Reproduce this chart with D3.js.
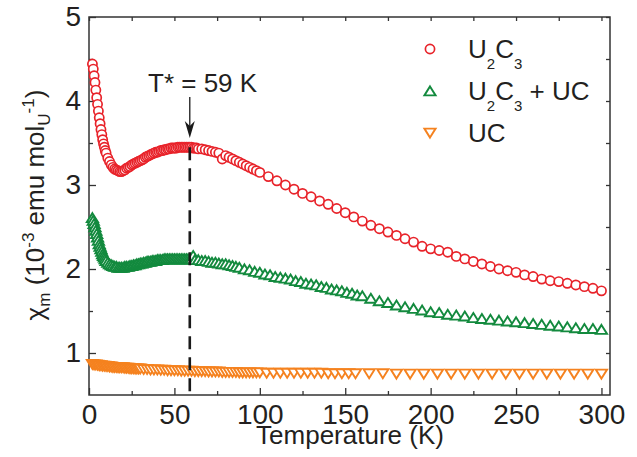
<html>
  <head>
    <style>
      body { margin: 0; background: #fff; }
      text { font-family: "Liberation Sans", Arial, sans-serif; fill: #231f20; }
    </style>
  </head>
  <body>
    <script src="https://d3js.org/d3.v7.min.js"></script>
    <div id="main"></div>

    <script>
      // ---- data ----
      const redT = [2, 2.5, 3, 3.5, 4, 4.5, 5, 5.5, 6, 6.5, 7, 7.5, 8, 8.5, 9, 9.5, 10, 11, 12, 13, 14, 15, 16, 17, 18, 19,
        20, 21, 22, 23, 24, 25, 26, 27, 28, 29, 30, 31, 32, 33, 34, 35, 36, 37, 38, 39, 40, 41, 42, 43, 44, 45, 46, 47, 48, 49,
        50, 51, 52, 53, 54, 55, 56, 57, 58, 59, 60, 61, 62, 63, 64, 66, 68, 70, 72, 74, 76, 78, 80, 82, 84, 86, 88, 90, 92, 94,
        96, 98, 100, 105, 110, 115, 120, 125, 130, 135, 140, 145, 150, 155, 160, 165, 170, 175, 180, 185, 190, 195, 200, 205,
        210, 215, 220, 225, 230, 235, 240, 245, 250, 255, 260, 265, 270, 275, 280, 285, 290, 295, 300];
      const redChi = [4.44, 4.38, 4.30, 4.22, 4.13, 4.04, 3.96, 3.88, 3.80, 3.73, 3.66, 3.60, 3.54, 3.49, 3.45, 3.41, 3.38, 3.32,
        3.28, 3.24, 3.21, 3.19, 3.18, 3.17, 3.16, 3.16, 3.17, 3.18, 3.20, 3.21, 3.22, 3.24, 3.25, 3.26, 3.27, 3.28, 3.29, 3.30,
        3.31, 3.33, 3.34, 3.35, 3.36, 3.37, 3.38, 3.39, 3.39, 3.40, 3.41, 3.41, 3.42, 3.42, 3.43, 3.43, 3.44, 3.44, 3.44, 3.44,
        3.45, 3.45, 3.45, 3.45, 3.45, 3.45, 3.45, 3.45, 3.45, 3.44, 3.44, 3.44, 3.43, 3.43, 3.42, 3.41, 3.40, 3.39, 3.38, 3.31,
        3.35, 3.33, 3.31, 3.29, 3.27, 3.25, 3.23, 3.21, 3.19, 3.17, 3.15, 3.10, 3.05, 3.00, 2.95, 2.90, 2.86, 2.81, 2.77, 2.72,
        2.67, 2.62, 2.57, 2.52, 2.48, 2.44, 2.40, 2.36, 2.32, 2.27, 2.24, 2.22, 2.20, 2.15, 2.12, 2.09, 2.06, 2.03, 2.00, 1.98,
        1.96, 1.93, 1.91, 1.88, 1.86, 1.85, 1.83, 1.81, 1.79, 1.77, 1.74];

      const greenT = [2, 2.5, 3, 3.5, 4, 4.5, 5, 5.5, 6, 6.5, 7, 7.5, 8, 8.5, 9, 9.5, 10, 11, 12, 13, 14, 15, 16, 17, 18, 19,
        20, 21, 22, 23, 24, 25, 26, 27, 28, 29, 30, 31, 32, 33, 34, 35, 36, 37, 38, 39, 40, 41, 42, 43, 44, 45, 46, 47, 48, 49,
        50, 51, 52, 53, 54, 55, 56, 57, 58, 59, 60, 61, 62, 64, 66, 68, 70, 72, 74, 76, 78, 80, 82, 84, 86, 88, 91, 94, 97, 100,
        103, 106, 109, 112, 115, 118, 121, 124, 127, 130, 133, 136, 139, 142, 145, 148, 151, 154, 157, 160, 165, 170, 175, 180,
        185, 190, 195, 200, 205, 210, 215, 220, 225, 230, 235, 240, 245, 250, 255, 260, 265, 270, 275, 280, 285, 290, 295, 300];
      const greenChi = [2.61, 2.58, 2.54, 2.50, 2.46, 2.42, 2.38, 2.34, 2.30, 2.27, 2.24, 2.21, 2.18, 2.16, 2.14, 2.12, 2.10,
        2.08, 2.06, 2.05, 2.04, 2.03, 2.03, 2.02, 2.02, 2.02, 2.02, 2.03, 2.03, 2.03, 2.04, 2.04, 2.05, 2.05, 2.06, 2.06, 2.07,
        2.07, 2.08, 2.08, 2.09, 2.09, 2.09, 2.10, 2.10, 2.10, 2.11, 2.11, 2.11, 2.11, 2.12, 2.12, 2.12, 2.12, 2.12, 2.12, 2.12,
        2.12, 2.12, 2.12, 2.12, 2.12, 2.12, 2.12, 2.12, 2.12, 2.12, 2.16, 2.11, 2.11, 2.10, 2.10, 2.09, 2.08, 2.08, 2.07, 2.06,
        2.06, 2.05, 2.04, 2.03, 2.02, 2.00, 1.99, 1.97, 1.96, 1.94, 1.93, 1.91, 1.90, 1.89, 1.88, 1.86, 1.85, 1.83, 1.82, 1.81,
        1.79, 1.78, 1.76, 1.75, 1.74, 1.72, 1.71, 1.69, 1.68, 1.65, 1.62, 1.60, 1.57, 1.55, 1.53, 1.51, 1.49, 1.48, 1.46, 1.45,
        1.44, 1.42, 1.41, 1.40, 1.39, 1.38, 1.37, 1.36, 1.35, 1.34, 1.33, 1.32, 1.31, 1.30, 1.29, 1.29, 1.28];

      const orangeT = [2, 3, 4, 5, 6, 7, 8, 9, 10, 11, 12, 13, 14, 15, 16, 17, 18, 19, 20, 21, 22, 23, 24, 25, 26, 27, 28, 29,
        30, 32, 34, 36, 38, 40, 42, 44, 46, 48, 50, 52, 54, 56, 58, 60, 62, 64, 66, 68, 70, 72, 74, 76, 78, 80, 82, 84, 86, 88,
        90, 92, 94, 96, 98, 100, 104, 108, 112, 116, 120, 124, 128, 132, 136, 140, 144, 148, 152, 156, 164, 172, 180, 188, 196,
        204, 212, 220, 228, 236, 244, 252, 260, 268, 276, 284, 292, 300];
      const orangeChi = [0.865, 0.86, 0.86, 0.855, 0.85, 0.85, 0.845, 0.845, 0.84, 0.84, 0.835, 0.835, 0.83, 0.83, 0.83, 0.825,
        0.825, 0.825, 0.825, 0.82, 0.82, 0.82, 0.815, 0.815, 0.815, 0.81, 0.81, 0.81, 0.81, 0.805, 0.805, 0.80, 0.80, 0.80,
        0.795, 0.795, 0.79, 0.79, 0.79, 0.79, 0.785, 0.785, 0.785, 0.785, 0.78, 0.78, 0.78, 0.78, 0.775, 0.775, 0.775, 0.775,
        0.77, 0.77, 0.77, 0.77, 0.77, 0.765, 0.765, 0.765, 0.765, 0.765, 0.765, 0.765, 0.76, 0.76, 0.76, 0.76, 0.76, 0.76, 0.76,
        0.76, 0.76, 0.755, 0.755, 0.755, 0.755, 0.755, 0.755, 0.755, 0.75, 0.75, 0.75, 0.75, 0.75, 0.75, 0.75, 0.75, 0.75, 0.75,
        0.75, 0.75, 0.75, 0.75, 0.75, 0.75];

      const xTicks = [0, 50, 100, 150, 200, 250, 300];
      const yTicks = [1, 2, 3, 4, 5];
      const tStar = 59;

      const red = "#e8232a", green = "#138a3e", orange = "#f5821f";

      const svg = d3.select("#main").append("svg")
        .attr("width", 637).attr("height", 457);

      const x = d3.scaleLinear().domain([0, 305]).range([89, 610]);
      const y = d3.scaleLinear().domain([0.5, 5]).range([395, 17]);

      // axes: ticks point inward, mirrored on top and right
      const minorX = d3.range(25, 305, 50);
      const minorY = [1.5, 2.5, 3.5, 4.5];

      function styleAxis(g) {
        g.attr("font-size", null).attr("font-family", null);
        g.select(".domain").remove();
        g.selectAll("line").attr("stroke", "#333").attr("stroke-width", 1.3);
        g.selectAll("text").style("font-size", "28px").attr("fill", "#231f20");
      }

      svg.append("g").attr("transform", "translate(0,395)")
        .call(d3.axisBottom(x).tickValues(xTicks).tickSize(-7).tickPadding(9).tickFormat(d3.format("d"))).call(styleAxis);
      svg.append("g").attr("transform", "translate(0,395)")
        .call(d3.axisBottom(x).tickValues(minorX).tickSize(-4).tickFormat("")).call(styleAxis);
      svg.append("g").attr("transform", "translate(0,17)")
        .call(d3.axisTop(x).tickValues(xTicks.concat(minorX)).tickSize(-4).tickFormat("")).call(styleAxis);

      svg.append("g").attr("transform", "translate(89,0)")
        .call(d3.axisLeft(y).tickValues(yTicks).tickSize(-7).tickPadding(8).tickFormat(d3.format("d"))).call(styleAxis);
      svg.append("g").attr("transform", "translate(89,0)")
        .call(d3.axisLeft(y).tickValues(minorY).tickSize(-4).tickFormat("")).call(styleAxis);
      svg.append("g").attr("transform", "translate(610,0)")
        .call(d3.axisRight(y).tickValues(yTicks.concat(minorY)).tickSize(-4).tickFormat("")).call(styleAxis);

      svg.append("rect")
        .attr("x", 89).attr("y", 17).attr("width", 521).attr("height", 378)
        .attr("fill", "none").attr("stroke", "#333").attr("stroke-width", 1.5);

      // markers
      const triUp = "M0,-4.6L5.6,4.4L-5.6,4.4Z";
      const triDown = "M0,4.6L5.6,-4.4L-5.6,-4.4Z";

      svg.append("g").selectAll("circle")
        .data(redT.map((t, i) => [t, redChi[i]]))
        .join("circle")
        .attr("cx", (d) => x(d[0])).attr("cy", (d) => y(d[1])).attr("r", 4.6)
        .attr("fill", "#fff").attr("stroke", red).attr("stroke-width", 1.7);

      svg.append("g").selectAll("path")
        .data(greenT.map((t, i) => [t, greenChi[i]]))
        .join("path")
        .attr("d", triUp)
        .attr("transform", (d) => `translate(${x(d[0])},${y(d[1])})`)
        .attr("fill", "#fff").attr("stroke", green).attr("stroke-width", 1.9);

      svg.append("g").selectAll("path")
        .data(orangeT.map((t, i) => [t, orangeChi[i]]))
        .join("path")
        .attr("d", triDown)
        .attr("transform", (d) => `translate(${x(d[0])},${y(d[1])})`)
        .attr("fill", "#fff").attr("stroke", orange).attr("stroke-width", 1.9);

      // T* marker
      svg.append("line")
        .attr("x1", x(tStar)).attr("x2", x(tStar))
        .attr("y1", y(3.45)).attr("y2", 395)
        .attr("stroke", "#1a1a1a").attr("stroke-width", 2.6)
        .attr("stroke-dasharray", "13,8");

      svg.append("line")
        .attr("x1", x(tStar)).attr("x2", x(tStar))
        .attr("y1", 97).attr("y2", 128)
        .attr("stroke", "#1a1a1a").attr("stroke-width", 1.3);
      svg.append("path")
        .attr("d", `M${x(tStar)},138L${x(tStar) - 5},121L${x(tStar)},126L${x(tStar) + 5},121Z`)
        .attr("fill", "#1a1a1a");

      svg.append("text")
        .attr("x", 148).attr("y", 92).attr("font-size", 26)
        .text("T* = 59 K");

      // legend
      const legend = svg.append("g");
      legend.append("circle").attr("cx", 430).attr("cy", 49).attr("r", 4.6)
        .attr("fill", "#fff").attr("stroke", red).attr("stroke-width", 1.7);
      legend.append("path").attr("d", triUp).attr("transform", "translate(430,91)")
        .attr("fill", "#fff").attr("stroke", green).attr("stroke-width", 1.9);
      legend.append("path").attr("d", triDown).attr("transform", "translate(430,133)")
        .attr("fill", "#fff").attr("stroke", orange).attr("stroke-width", 1.9);

      function formula(t, suffix) {
        t.append("tspan").text("U");
        t.append("tspan").attr("font-size", 15).attr("dy", 11).text("2");
        t.append("tspan").attr("dy", -11).text("C");
        t.append("tspan").attr("font-size", 15).attr("dy", 11).text("3");
        if (suffix) t.append("tspan").attr("dy", -11).text(suffix);
      }
      formula(legend.append("text").attr("x", 468).attr("y", 58).attr("font-size", 26));
      formula(legend.append("text").attr("x", 468).attr("y", 100).attr("font-size", 26), " + UC");
      legend.append("text").attr("x", 468).attr("y", 142).attr("font-size", 26).text("UC");

      // axis titles
      svg.append("text")
        .attr("x", 350).attr("y", 444).attr("text-anchor", "middle").attr("font-size", 26)
        .text("Temperature (K)");

      const yt = svg.append("text")
        .attr("transform", "translate(44,205) rotate(-90)")
        .attr("text-anchor", "middle").attr("font-size", 26);
      yt.append("tspan").text("χ");
      yt.append("tspan").attr("font-size", 17).attr("dy", 6).text("m");
      yt.append("tspan").attr("dy", -6).text(" (10");
      yt.append("tspan").attr("font-size", 17).attr("dy", -10).text("-3");
      yt.append("tspan").attr("dy", 10).text(" emu mol");
      yt.append("tspan").attr("font-size", 17).attr("dy", 6).text("U");
      yt.append("tspan").attr("font-size", 17).attr("dy", -16).text("-1");
      yt.append("tspan").attr("dy", 10).text(")");
    </script>
  </body>
</html>
